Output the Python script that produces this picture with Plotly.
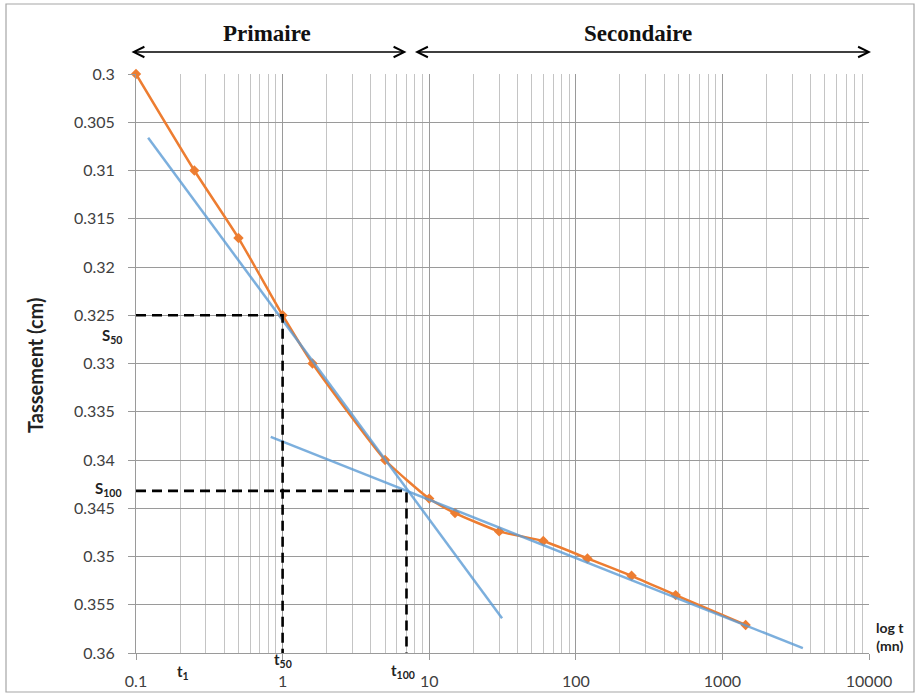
import math
import plotly.graph_objects as go

# ---- data ----
t_obs = [0.1, 0.25, 0.5, 1, 1.6, 5, 10, 15, 30, 60, 120, 240, 480, 1440]
s_obs = [0.300, 0.310, 0.317, 0.325, 0.330, 0.340, 0.344, 0.3455, 0.3474,
         0.3484, 0.3502, 0.3520, 0.3540, 0.3571]

tan1_t = [0.121, 31.4]          # primary consolidation tangent
tan1_s = [0.3066, 0.3564]
tan2_t = [0.83, 3540]           # secondary compression tangent
tan2_s = [0.3376, 0.3595]

t50, s50 = 1.0, 0.325
t100, s100 = 7.0, 0.3432

x_tickvals = [0.1, 1, 10, 100, 1000, 10000]
x_ticktext = ["0.1", "1", "10", "100", "1000", "10000"]
y_tickvals = [0.300, 0.305, 0.310, 0.315, 0.320, 0.325, 0.330, 0.335,
              0.340, 0.345, 0.350, 0.355, 0.360]
y_ticktext = ["0.3", "0.305", "0.31", "0.315", "0.32", "0.325", "0.33",
              "0.335", "0.34", "0.345", "0.35", "0.355", "0.36"]
x_minor = [m * 10.0 ** e for e in range(-1, 4) for m in range(2, 10)]

x_min, x_max = 0.1, 10000
y_top, y_bot = 0.300, 0.360

# ---- geometry ----
W, H = 920, 697
L, R, T, B = 136, 51, 74, 44
pw, ph = W - L - R, H - T - B


def px_x(px):
    return (px - L) / pw


def px_y(py):
    return (H - B - py) / ph


ORANGE = "#ED7D31"
BLUE = "rgba(91,155,213,0.80)"
TXT = "#404040"
FONT = "Lato"

fig = go.Figure()

fig.add_trace(go.Scatter(
    x=t_obs, y=s_obs, mode="lines+markers",
    line=dict(color=ORANGE, width=2.5, shape="spline", smoothing=0.5),
    marker=dict(symbol="diamond", size=8, color=ORANGE),
    cliponaxis=False, showlegend=False, hoverinfo="x+y"))

for tt, ss in ((tan1_t, tan1_s), (tan2_t, tan2_s)):
    fig.add_trace(go.Scatter(
        x=tt, y=ss, mode="lines", line=dict(color=BLUE, width=2.5),
        showlegend=False, hoverinfo="skip"))

for tv, sv in ((t50, s50), (t100, s100)):
    fig.add_trace(go.Scatter(
        x=[x_min, tv, tv], y=[sv, sv, y_bot], mode="lines",
        line=dict(color="black", width=2.6, dash="10px,6px"),
        cliponaxis=False, showlegend=False, hoverinfo="skip"))

ann = []
# double arrows Primaire / Secondaire
arrow_y = px_y(52)
ann.append(dict(x=math.log10(t100), y=arrow_y, xref="x", yref="paper",
                ax=math.log10(x_min) - 6 / 146.6, ay=0, axref="x", ayref="pixel",
                showarrow=True, arrowhead=5, startarrowhead=5, arrowside="end+start",
                arrowsize=1.6, startarrowsize=1.6, arrowwidth=1.3, arrowcolor="black",
                text=""))
ann.append(dict(x=math.log10(x_max) + 2 / 146.6, y=arrow_y, xref="x", yref="paper",
                ax=math.log10(t100) + 7 / 146.6, ay=0, axref="x", ayref="pixel",
                showarrow=True, arrowhead=5, startarrowhead=5, arrowside="end+start",
                arrowsize=1.6, startarrowsize=1.6, arrowwidth=1.3, arrowcolor="black",
                text=""))


def label(px, py, text, size, family=FONT, xanchor="center", angle=0, color="#222"):
    ann.append(dict(x=px_x(px), y=px_y(py), xref="paper", yref="paper",
                    xanchor=xanchor, yanchor="middle", text=text, showarrow=False,
                    textangle=angle, font=dict(family=family, size=size, color=color)))


label(267, 33, "<b>Primaire</b>", 23, family="Liberation Serif", color="#111")
label(638, 33, "<b>Secondaire</b>", 23, family="Liberation Serif", color="#111")
label(124, 336, "<b>S<sub>50</sub></b>", 15, xanchor="right")
label(124, 489, "<b>S<sub>100</sub></b>", 15, xanchor="right")
label(183, 672, "<b>t<sub>1</sub></b>", 15)
label(283, 660, "<b>t<sub>50</sub></b>", 15)
label(403, 671, "<b>t<sub>100</sub></b>", 15)
label(890, 636, "<b>log t<br>(mn)</b>", 14)
label(35, 365, "<b>Tassement (cm)</b>", 20, angle=-90)

fig.update_layout(
    width=W, height=H, margin=dict(l=L, r=R, t=T, b=B),
    paper_bgcolor="white", plot_bgcolor="white",
    font=dict(family=FONT, size=16, color=TXT),
    annotations=ann,
    shapes=[dict(type="rect", xref="paper", yref="paper",
                 x0=px_x(6), x1=px_x(914), y0=px_y(692), y1=px_y(4),
                 line=dict(color="#a6a6a6", width=1.2), layer="below")],
)

fig.update_xaxes(
    type="log", range=[math.log10(x_min), math.log10(x_max)],
    tickvals=x_tickvals, ticktext=x_ticktext, automargin=False,
    showgrid=True, gridcolor="#9a9a9a", gridwidth=1,
    minor=dict(tickvals=x_minor, showgrid=True, gridcolor="#c4c4c4", gridwidth=1,
               ticks=""),
    showline=True, linecolor="#9a9a9a", linewidth=1,
    ticks="outside", ticklen=6, tickcolor="#9a9a9a",
    ticklabelstandoff=8, tickfont=dict(family=FONT, size=16, color=TXT),
    zeroline=False, mirror=False)

fig.update_yaxes(
    range=[y_bot, y_top], tickvals=y_tickvals, ticktext=y_ticktext,
    automargin=False,
    showgrid=True, gridcolor="#9a9a9a", gridwidth=1,
    showline=True, linecolor="#9a9a9a", linewidth=1,
    ticks="outside", ticklen=7, tickcolor="#9a9a9a",
    ticklabelstandoff=10, tickfont=dict(family=FONT, size=16, color=TXT),
    zeroline=False)

fig.write_html("out.html")
